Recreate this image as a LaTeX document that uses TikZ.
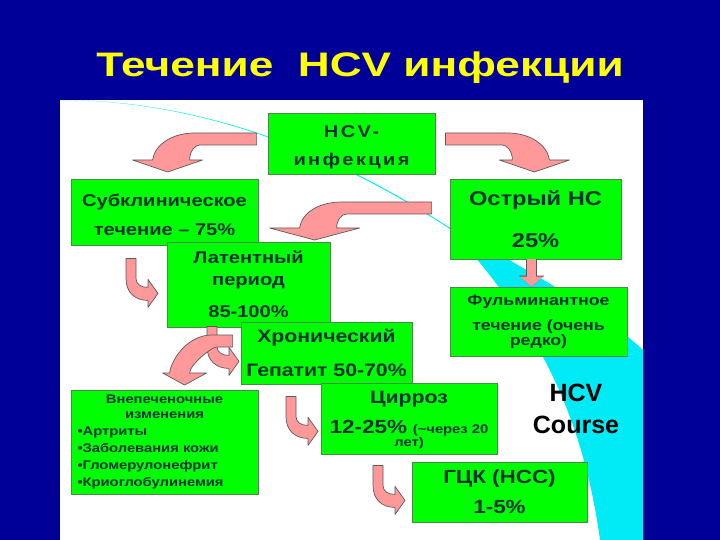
\documentclass[tikz,border=0pt]{standalone}
\usepackage{fontspec}
\setmainfont{Liberation Sans}
\newfontfamily\boxfont{Liberation Sans}[FakeStretch=1.18]
\newfontfamily\titlefont{Liberation Sans}[FakeStretch=1.3]
\usetikzlibrary{arrows.meta}

\definecolor{navybg}{RGB}{0,0,153}
\definecolor{boxgreen}{RGB}{0,255,0}
\definecolor{boxline}{RGB}{70,140,70}
\definecolor{textteal}{RGB}{0,51,51}
\definecolor{arrowpink}{RGB}{255,153,153}
\definecolor{arrowedge}{RGB}{90,90,90}
\definecolor{swoosh}{RGB}{0,235,245}
\definecolor{titleyellow}{RGB}{255,255,0}

\tikzset{
  gbox/.style n args={2}{draw=boxline, fill=boxgreen, text=textteal, line width=0.8pt,
    inner sep=0pt, align=center, font=\boxfont\bfseries\fontsize{#1}{#2}\selectfont},
  pinkarrow/.style={fill=arrowpink, draw=arrowedge, line width=0.7pt, line join=round},
  downarrow/.style={arrowpink, line width=9pt, -{Triangle[length=10pt,width=23pt]},
    preaction={draw=arrowedge, line width=10.4pt, -{Triangle[length=11pt,width=25pt]}}},
  pics/lturn/.style args={#1/#2/#3/#4}{code={
    \path[pinkarrow] (0,0) -- (-#1,0)
      .. controls ({-#1-23},0) and ({-#1-40},{#3-15}) .. ({-#1-42},#3)
      -- ({-#1-27-#2},#3) -- ({-#1-27},{#3+12}) -- ({-#1-27+#2},#3) -- ({-#1-42+#4},#3)
      .. controls ({-#1-42+#4},{#3-8}) and (-#1,12) .. ({-#1+5},12) -- (0,12) -- cycle;
  }},
  pics/uturn/.style={code={
    \path[pinkarrow] (0,0) -- (10,0) -- (10,20) .. controls (10,26) and (15,29) .. (22,29)
      -- (22,21) -- (32,35) -- (22,49) -- (22,42) .. controls (9,42) and (0,34) .. (0,20) -- cycle;
  }}
}

\begin{document}
\begin{tikzpicture}[x=1pt,y=-1pt]
\useasboundingbox (0,0) rectangle (720,540);
\fill[navybg] (0,0) rectangle (720,540);
\fill[white] (60,100) rectangle (643,540);

% swoosh behind the boxes
\fill[swoosh] (60,100) .. controls (200,100) and (330,150) .. (447,226)
  .. controls (520,265) and (600,310) .. (643,350) -- (643,540) -- (600,540)
  .. controls (585,430) and (545,330) .. (450,229)
  .. controls (330,151) and (200,100.5) .. (60,100) -- cycle;

\node[anchor=base, text=titleyellow, font=\titlefont\bfseries\fontsize{34}{40}\selectfont] (title) at (360,77) {Течение\ \ HCV инфекции};

\node[gbox={17}{28}, font=\boxfont\bfseries\fontsize{17}{28}\selectfont\addfontfeature{LetterSpace=14},
  minimum width=167pt, minimum height=61pt] (hcv) at (351.5,143.5) {\rule{0pt}{20pt}HCV-\\инфекция};
\node[gbox={17}{29}, minimum width=187pt, minimum height=66pt] (sub) at (164.5,212) {\rule{0pt}{18.5pt}Субклиническое\\течение – 75\%};
\node[gbox={17}{22}, minimum width=163pt, minimum height=85pt] (lat) at (248.5,284.5) {Латентный\\период\\[10pt]85-100\%};
\node[gbox={20}{42}, minimum width=171pt, minimum height=80pt] (acute) at (535.5,219) {Острый НС\\25\%};
\node[gbox={15}{25}, minimum width=177pt, minimum height=69pt] (fulm) at (538.5,321.5) {Фульминантное\\течение (очень\\[-10pt]редко)};
\node[gbox={18}{34}, minimum width=171pt, minimum height=62pt] (chron) at (326.5,353) {Хронический\\Гепатит 50-70\%};
\node[gbox={18}{30}, minimum width=176pt, minimum height=71pt] (cirr) at (409,418.5) {\rule{0pt}{15pt}Цирроз\\{\fontsize{19}{20}\selectfont 12-25\%} {\fontsize{12.5}{13}\selectfont (\textasciitilde через 20}\\[-17pt]{\fontsize{12.5}{13}\selectfont лет)}};
\node[gbox={19}{30}, minimum width=175pt, minimum height=60pt] (hcc) at (499.5,492) {ГЦК (НСС)\\1-5\%};
\node[gbox={12.5}{17}, text width=174pt, align=left, minimum width=187pt, minimum height=104pt] (extra) at (164.5,442)
  {{\centering Внепеченочные\\[-2pt]изменения\par}•Артриты\\•Заболевания кожи\\•Гломерулонефрит\\•Криоглобулинемия};

\node[align=center, font=\bfseries\fontsize{25}{32}\selectfont] (course) at (576,409) {HCV\\Course};

% curved block arrows
\pic at ([shift={(-11,-10.5)}]hcv.west) {lturn=62/35/27/37};
\pic[xscale=-1] at ([shift={(10,-10.5)}]hcv.east) {lturn=62/35/27/37};
\pic at ([shift={(-18,-17)}]acute.west) {lturn=90/45/26/37};
\pic at ([shift={(-38.5,13)}]sub.south) {uturn};
\pic at ([shift={(-41.5,-1)}]lat.south) {uturn};
\pic at ([shift={(-8,-18)}]chron.west) {lturn=21/22/38/20};
\pic at ([shift={(-40.5,12)}]chron.south) {uturn};
\pic at ([shift={(-36,11)}]cirr.south) {uturn};
\draw[downarrow] ([xshift=-4pt]acute.south) -- ([xshift=-4pt]acute.south |- fulm.north);

\end{tikzpicture}
\end{document}
